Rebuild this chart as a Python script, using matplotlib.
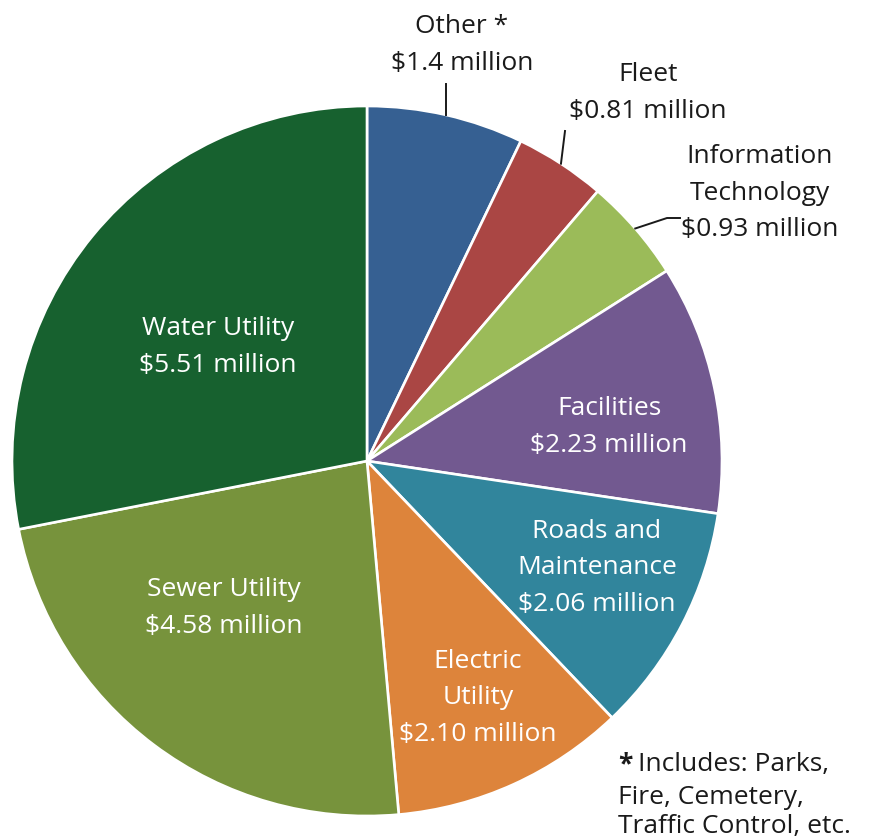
import matplotlib
matplotlib.use("Agg")
import matplotlib.pyplot as plt
import numpy as np

plt.rcParams['font.family'] = ['Open Sans', 'DejaVu Sans']

categories = ["Other *", "Fleet", "Information\nTechnology", "Facilities",
              "Roads and\nMaintenance", "Electric\nUtility", "Sewer Utility", "Water Utility"]
values = [1.4, 0.81, 0.93, 2.23, 2.06, 2.10, 4.58, 5.51]
value_labels = ["$1.4 million", "$0.81 million", "$0.93 million", "$2.23 million",
                "$2.06 million", "$2.10 million", "$4.58 million", "$5.51 million"]
colors = ["#366092", "#AA4644", "#9BBB59", "#725990", "#31859C", "#DD843B", "#77933C", "#17612F"]

W, H = 869, 839
fig = plt.figure(figsize=(W / 100, H / 100), dpi=100)
ax = fig.add_axes([0, 0, 1, 1])

cx, cy, r = 367, H - 461, 355
wedges, _ = ax.pie(values, colors=colors, startangle=90, counterclock=False,
                   center=(cx, cy), radius=r, frame=True,
                   wedgeprops=dict(edgecolor='white', linewidth=1.9))
ax.set_xlim(0, W)
ax.set_ylim(0, H)
ax.set_aspect('equal')
ax.axis('off')

# label positions (pixel coords, y from top)
inside = {3: (609, 427), 4: (597, 568), 5: (478, 698), 6: (224, 608), 7: (218, 347)}
outside = {0: (462, 45), 1: (648, 93), 2: (760, 193)}

fs = 19
ls = 1.58
for i, (x, y) in inside.items():
    ax.text(x, H - y, categories[i] + "\n" + value_labels[i], ha='center', va='center',
            color='white', fontsize=fs, linespacing=ls)
for i, (x, y) in outside.items():
    ax.text(x, H - y, categories[i] + "\n" + value_labels[i], ha='center', va='center',
            color='#1a1a1a', fontsize=fs, linespacing=ls)

# leader lines
def edge_pt(i, frac=0.5):
    w = wedges[i]
    a = np.deg2rad(w.theta1 + (w.theta2 - w.theta1) * frac)
    return cx + r * np.cos(a), cy + r * np.sin(a)

x0, y0 = edge_pt(0, 0.5)
ax.plot([x0, x0], [y0, H - 84], color='#1a1a1a', lw=1.4)
x1, y1 = edge_pt(1, 0.5)
ax.plot([x1, 565], [y1, H - 131], color='#1a1a1a', lw=1.4)
x2, y2 = edge_pt(2, 0.5)
ax.plot([x2, 667, 680], [y2, H - 218, H - 218], color='#1a1a1a', lw=1.4)

ax.text(618, H - 765, "*", ha='left', va='center', fontsize=fs, color='#1a1a1a',
        fontweight='bold')
ax.text(638, H - 765, "Includes: Parks,", ha='left', va='center', fontsize=fs,
        color='#1a1a1a')
ax.text(618, H - 812, "Fire, Cemetery,\nTraffic Control, etc.",
        ha='left', va='center', fontsize=fs, color='#1a1a1a', linespacing=1.25)

fig.savefig("out.png", dpi=100)
